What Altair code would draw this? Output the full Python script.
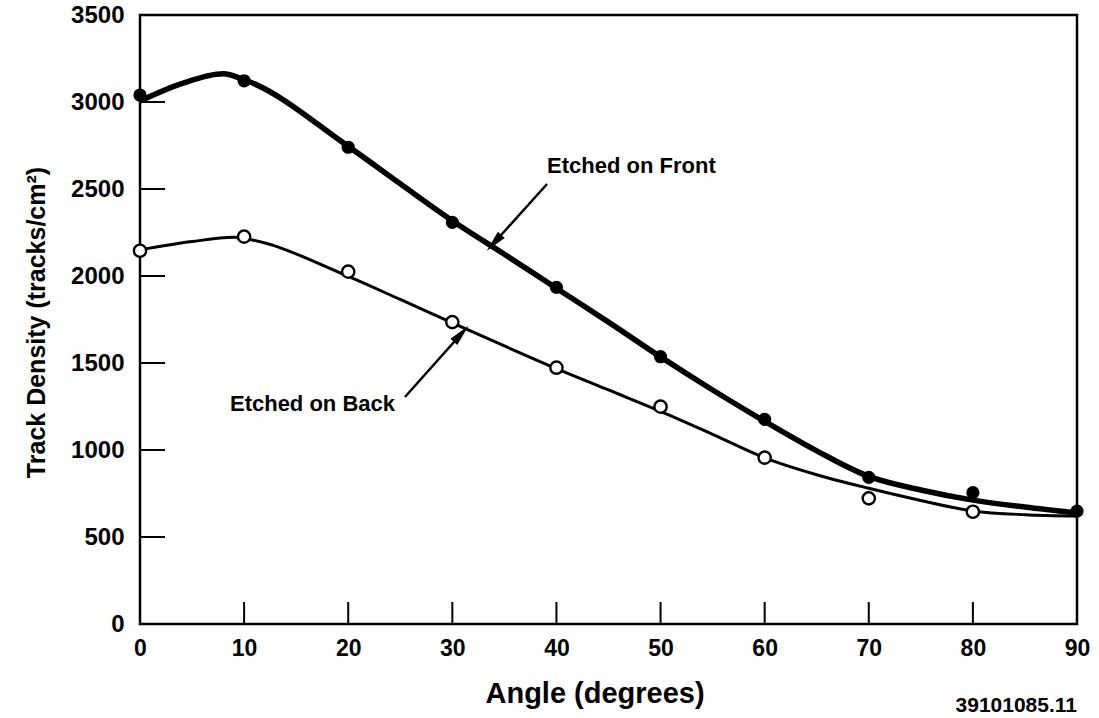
import altair as alt
import pandas as pd

FONT = "Liberation Sans"

# measured points
angles = [0, 10, 20, 30, 40, 50, 60, 70, 80, 90]
front_pts = [3040, 3122, 2740, 2308, 1935, 1536, 1176, 843, 755, 649]
back_angles = [0, 10, 20, 30, 40, 50, 60, 70, 80]
back_pts = [2145, 2226, 2025, 1735, 1473, 1249, 956, 722, 645]

# fitted curves
front_curve_x = [0, 4, 8, 10, 20, 25, 30, 35, 40, 45, 50, 55, 60, 65, 70, 75, 80, 85, 90]
front_curve_y = [3005, 3105, 3162, 3128, 2745, 2530, 2318, 2125, 1930, 1735, 1535,
                 1345, 1165, 995, 848, 770, 712, 672, 638]
back_curve_x = [0, 5, 9, 10, 20, 25, 30, 35, 40, 45, 50, 55, 60, 65, 70, 75, 80, 85, 90]
back_curve_y = [2150, 2198, 2222, 2215, 1998, 1865, 1730, 1598, 1468, 1345, 1222,
                1090, 955, 858, 780, 710, 650, 628, 620]

# axes
x_labels = [0, 10, 20, 30, 40, 50, 60, 70, 80, 90]
y_labels = [0, 500, 1000, 1500, 2000, 2500, 3000, 3500]
x_ticks = [10, 20, 30, 40, 50, 60, 70, 80]
y_ticks = [500, 1000, 1500, 2000, 2500, 3000]

# annotations
ann_text = ["Etched on Front", "Etched on Back"]
ann_tx = [39.1, 8.64]
ann_ty = [2592, 1226]
arrow_x = [39.1, 25.45]
arrow_y = [2529, 1305]
arrow_x2 = [34.3, 30.6]
arrow_y2 = [2210, 1650]
head_x = [34.0, 30.85]
head_y = [2190, 1668]
head_rot = [222, 42]
fig_id = "39101085.11"

W, H = 937, 609

front_curve = pd.DataFrame({"angle": front_curve_x, "density": front_curve_y})
back_curve = pd.DataFrame({"angle": back_curve_x, "density": back_curve_y})
front_df = pd.DataFrame({"angle": angles, "density": front_pts})
back_df = pd.DataFrame({"angle": back_angles, "density": back_pts})
xt_df = pd.DataFrame({"angle": x_ticks})
yt_df = pd.DataFrame({"density": y_ticks})
ann_df = pd.DataFrame({"text": ann_text, "angle": ann_tx, "density": ann_ty})
arr_df = pd.DataFrame({"angle": arrow_x, "density": arrow_y, "angle2": arrow_x2, "density2": arrow_y2})
head_df = pd.DataFrame({"angle": head_x, "density": head_y, "rot": head_rot})
id_df = pd.DataFrame({"text": [fig_id]})

xscale = alt.Scale(domain=[0, 90], nice=False, zero=False)
yscale = alt.Scale(domain=[0, 3500], nice=False, zero=False)

x_axis = alt.Axis(
    values=x_labels, format="d", title="Angle (degrees)",
    domain=False, ticks=False, tickSize=0, grid=False,
    labelFont=FONT, labelFontSize=23, labelFontWeight="bold", labelColor="black",
    labelPadding=13, labelFlush=False, labelOverlap=False,
    titleFont=FONT, titleFontSize=29, titleFontWeight="bold", titleColor="black",
    titleX=345, titleY=78, titleAlign="left", titleBaseline="alphabetic",
)
y_axis = alt.Axis(
    values=y_labels, format="d", title="Track Density (tracks/cm²)",
    domain=False, ticks=False, tickSize=0, grid=False,
    labelFont=FONT, labelFontSize=24, labelFontWeight="bold", labelColor="black",
    labelPadding=16, labelFlush=False, labelOverlap=False,
    titleFont=FONT, titleFontSize=25, titleFontWeight="bold", titleColor="black",
    titleX=-104, titleY=307, titleAngle=270, titleAlign="center", titleBaseline="middle",
)

X = alt.X("angle:Q", scale=xscale, axis=x_axis)
Y = alt.Y("density:Q", scale=yscale, axis=y_axis)

front_line = alt.Chart(front_curve).mark_line(
    color="black", strokeWidth=5.5, interpolate="monotone"
).encode(x=X, y=Y)
back_line = alt.Chart(back_curve).mark_line(
    color="black", strokeWidth=3, interpolate="monotone"
).encode(x=X, y=Y)
front_points = alt.Chart(front_df).mark_circle(size=175, color="black", opacity=1).encode(x=X, y=Y)
back_points = alt.Chart(back_df).mark_point(
    shape="circle", fill="white", stroke="black", strokeWidth=2.4,
    size=150, opacity=1, fillOpacity=1, filled=False,
).encode(x=X, y=Y)
x_tick_marks = alt.Chart(xt_df).mark_rule(color="black", strokeWidth=2).encode(
    x=X, y=alt.value(H), y2=alt.value(H - 22),
)
y_tick_marks = alt.Chart(yt_df).mark_rule(color="black", strokeWidth=2).encode(
    y=Y, x=alt.value(0), x2=alt.value(25),
)
labels = alt.Chart(ann_df).mark_text(
    font=FONT, fontSize=22, fontWeight="bold", align="left", baseline="alphabetic", color="black"
).encode(x=X, y=Y, text="text:N")
arrows = alt.Chart(arr_df).mark_rule(color="black", strokeWidth=2.4).encode(
    x=X, y=Y, x2="angle2:Q", y2="density2:Q",
)
heads = alt.Chart(head_df).mark_point(
    shape="M0,-1L0.42,1L-0.42,1Z", filled=True, color="black", size=480, opacity=1
).encode(x=X, y=Y, angle=alt.Angle("rot:Q", scale=None))
id_text = alt.Chart(id_df).mark_text(
    font=FONT, fontSize=21, fontWeight="bold", align="right", baseline="alphabetic", color="black"
).encode(x=alt.value(W), y=alt.value(697), text="text:N")

chart = alt.layer(
    front_line, back_line, x_tick_marks, y_tick_marks, arrows, heads,
    front_points, back_points, labels, id_text,
).properties(
    width=W, height=H,
    autosize=alt.AutoSizeParams(type="none"),
    padding={"left": 140, "top": 15, "right": 22, "bottom": 94},
    background="white",
).configure_view(stroke="black", strokeWidth=2.5)

chart.save("out.html", embed_options={"renderer": "svg", "actions": False})
